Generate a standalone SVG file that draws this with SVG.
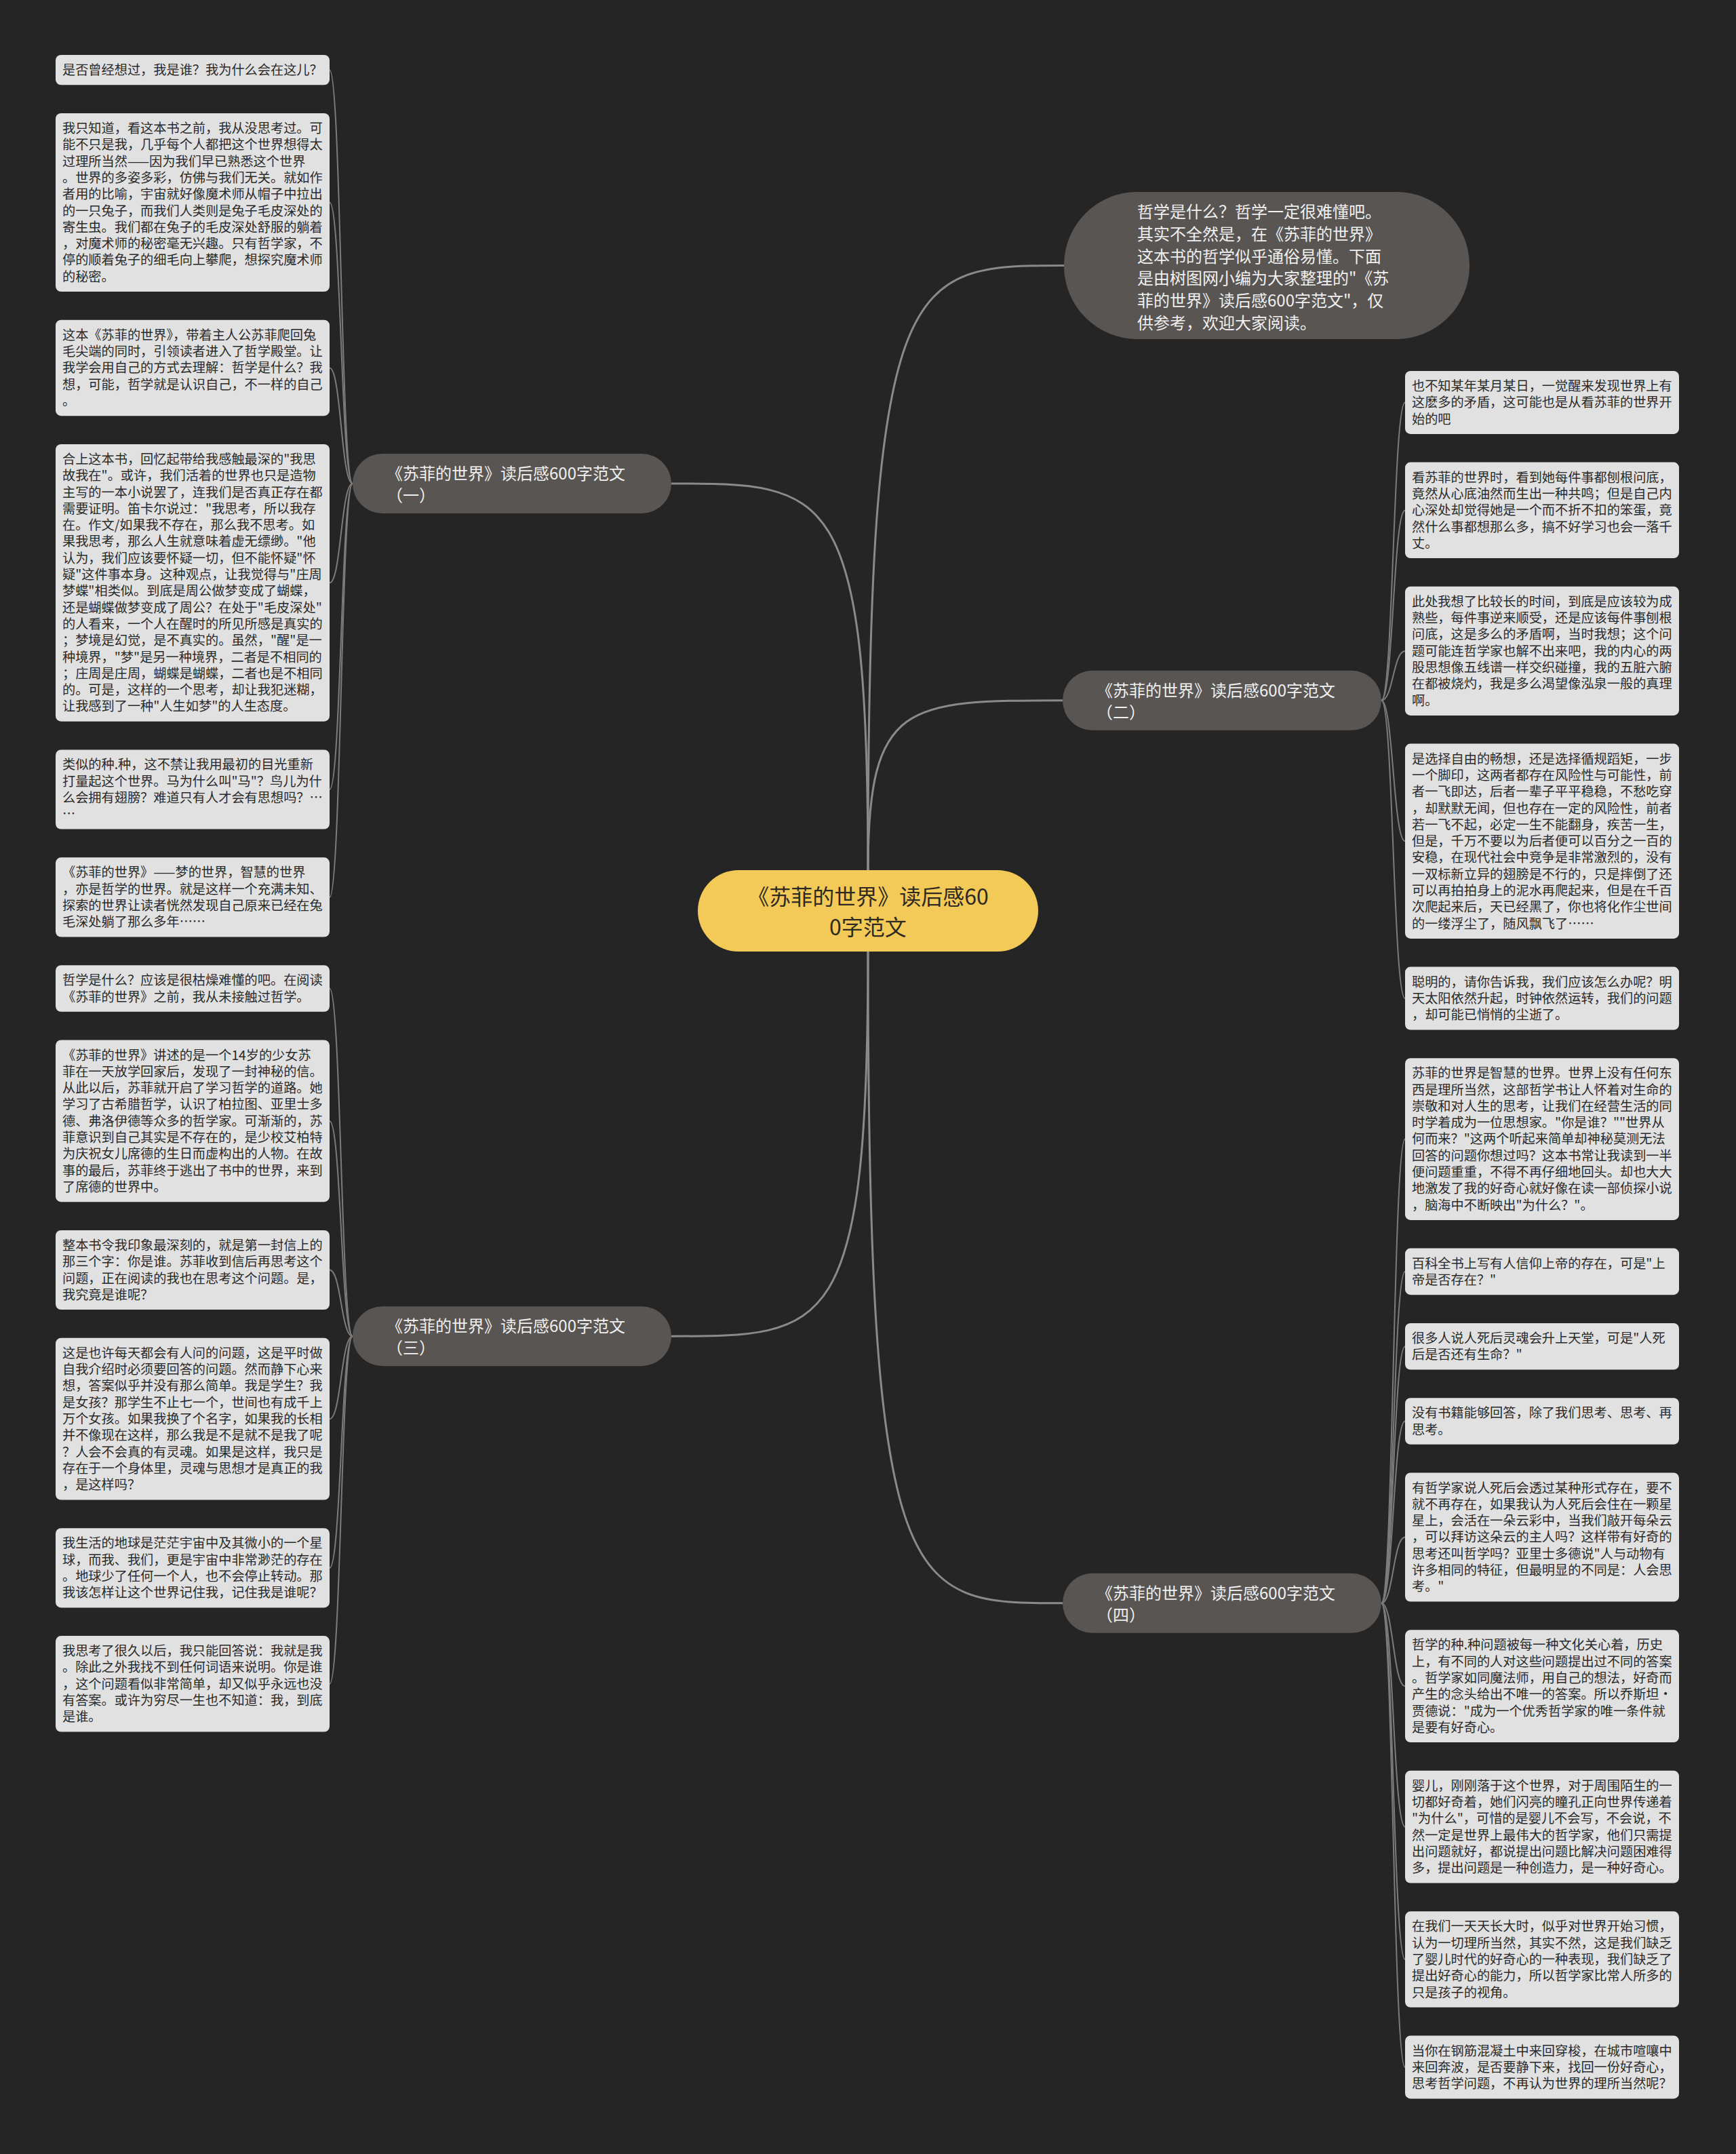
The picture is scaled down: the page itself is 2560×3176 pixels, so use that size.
<svg xmlns="http://www.w3.org/2000/svg" width="2560" height="3176" viewBox="0 0 2560 3176">
<style>
.bg{fill:#252525}
.leaf rect{fill:#e1e1e1}
.leaf text{font-family:"Noto Sans CJK SC","Noto Sans",sans-serif;font-size:19.2px;fill:#2a2a2a}
.br rect{fill:#595552}
.br text{font-family:"Noto Sans CJK SC","Noto Sans",sans-serif;font-size:24px;fill:#f0f0f0}
.main{fill:none;stroke:#8a8a8a;stroke-width:3}
.sub{fill:none;stroke:#7c7c7c;stroke-width:2}
</style>
<rect class="bg" x="0" y="0" width="2560" height="3176"/>

<g id="connectors">
<path class="main" d="M1280,1283 C1280,391.5 1338,391.5 1569,391.5"/>
<path class="main" d="M1280,1283 C1280,1032.8 1337,1032.8 1567,1032.8"/>
<path class="main" d="M1280,1283 C1280,713 1222,713 990,713"/>
<path class="main" d="M1280,1403 C1280,1970.2 1222,1970.2 990,1970.2"/>
<path class="main" d="M1280,1403 C1280,2363.8 1337,2363.8 1567,2363.8"/>
<path class="sub" d="M520,713 C503,713 503,103.2 486,103.2"/>
<path class="sub" d="M520,713 C503,713 503,298.5 486,298.5"/>
<path class="sub" d="M520,713 C503,713 503,542.5 486,542.5"/>
<path class="sub" d="M520,713 C503,713 503,859.3 486,859.3"/>
<path class="sub" d="M520,713 C503,713 503,1164 486,1164"/>
<path class="sub" d="M520,713 C503,713 503,1322.9 486,1322.9"/>
<path class="sub" d="M520,1970.2 C503,1970.2 503,1457.5 486,1457.5"/>
<path class="sub" d="M520,1970.2 C503,1970.2 503,1652.9 486,1652.9"/>
<path class="sub" d="M520,1970.2 C503,1970.2 503,1872.5 486,1872.5"/>
<path class="sub" d="M520,1970.2 C503,1970.2 503,2092.2 486,2092.2"/>
<path class="sub" d="M520,1970.2 C503,1970.2 503,2311.8 486,2311.8"/>
<path class="sub" d="M520,1970.2 C503,1970.2 503,2482.9 486,2482.9"/>
<path class="sub" d="M2037,1032.8 C2054.5,1032.8 2054.5,593.5 2072,593.5"/>
<path class="sub" d="M2037,1032.8 C2054.5,1032.8 2054.5,752.4 2072,752.4"/>
<path class="sub" d="M2037,1032.8 C2054.5,1032.8 2054.5,959.9 2072,959.9"/>
<path class="sub" d="M2037,1032.8 C2054.5,1032.8 2054.5,1240.3 2072,1240.3"/>
<path class="sub" d="M2037,1032.8 C2054.5,1032.8 2054.5,1472.1 2072,1472.1"/>
<path class="sub" d="M2037,2363.8 C2054.5,2363.8 2054.5,1679.6 2072,1679.6"/>
<path class="sub" d="M2037,2363.8 C2054.5,2363.8 2054.5,1874.9 2072,1874.9"/>
<path class="sub" d="M2037,2363.8 C2054.5,2363.8 2054.5,1985.2 2072,1985.2"/>
<path class="sub" d="M2037,2363.8 C2054.5,2363.8 2054.5,2095.5 2072,2095.5"/>
<path class="sub" d="M2037,2363.8 C2054.5,2363.8 2054.5,2266.6 2072,2266.6"/>
<path class="sub" d="M2037,2363.8 C2054.5,2363.8 2054.5,2486.2 2072,2486.2"/>
<path class="sub" d="M2037,2363.8 C2054.5,2363.8 2054.5,2693.7 2072,2693.7"/>
<path class="sub" d="M2037,2363.8 C2054.5,2363.8 2054.5,2889.1 2072,2889.1"/>
<path class="sub" d="M2037,2363.8 C2054.5,2363.8 2054.5,3048 2072,3048"/>
</g>

<g id="center">
<rect x="1029" y="1283" width="502" height="120" rx="60" fill="#f3c957"/>
<text x="1280" y="1334" text-anchor="middle" font-family="Noto Sans CJK SC, Noto Sans, sans-serif" font-size="32" fill="#2e2a22"><tspan x="1280" y="1334">《苏菲的世界》读后感60</tspan><tspan x="1280" y="1379">0字范文</tspan></text>
</g>

<g id="intro" class="br">
<rect x="1569" y="283" width="598" height="217" rx="108"/>
<text x="1677" y="321" font-size="24"><tspan x="1677" y="321">哲学是什么？哲学一定很难懂吧。</tspan><tspan x="1677" y="353.8">其实不全然是，在《苏菲的世界》</tspan><tspan x="1677" y="386.6">这本书的哲学似乎通俗易懂。下面</tspan><tspan x="1677" y="419.4">是由树图网小编为大家整理的"《苏</tspan><tspan x="1677" y="452.2">菲的世界》读后感600字范文"，仅</tspan><tspan x="1677" y="485">供参考，欢迎大家阅读。</tspan></text>
</g>

<g id="branch1" class="br">
<rect x="520" y="669" width="470" height="88" rx="44"/>
<text x="570" y="707"><tspan x="570" y="707">《苏菲的世界》读后感600字范文</tspan><tspan x="570" y="739">（一）</tspan></text>
</g>
<g id="branch2" class="br">
<rect x="1567" y="988.8" width="470" height="88" rx="44"/>
<text x="1617" y="1026.8"><tspan x="1617" y="1026.8">《苏菲的世界》读后感600字范文</tspan><tspan x="1617" y="1058.8">（二）</tspan></text>
</g>
<g id="branch3" class="br">
<rect x="520" y="1926.2" width="470" height="88" rx="44"/>
<text x="570" y="1964.2"><tspan x="570" y="1964.2">《苏菲的世界》读后感600字范文</tspan><tspan x="570" y="1996.2">（三）</tspan></text>
</g>
<g id="branch4" class="br">
<rect x="1567" y="2319.8" width="470" height="88" rx="44"/>
<text x="1617" y="2357.8"><tspan x="1617" y="2357.8">《苏菲的世界》读后感600字范文</tspan><tspan x="1617" y="2389.8">（四）</tspan></text>
</g>

<g id="L1" class="leaf"><rect x="82" y="81" width="404" height="44.3" rx="8"/>
<text x="92" y="110"><tspan x="92" dy="0">是否曾经想过，我是谁？我为什么会在这儿？</tspan></text></g>

<g id="L2" class="leaf"><rect x="82" y="167" width="404" height="263" rx="8"/>
<text x="92" y="196"><tspan x="92" dy="0">我只知道，看这本书之前，我从没思考过。可</tspan><tspan x="92" dy="24.3">能不只是我，几乎每个人都把这个世界想得太</tspan><tspan x="92" dy="24.3">过理所当然——因为我们早已熟悉这个世界</tspan><tspan x="92" dy="24.3">。世界的多姿多彩，仿佛与我们无关。就如作</tspan><tspan x="92" dy="24.3">者用的比喻，宇宙就好像魔术师从帽子中拉出</tspan><tspan x="92" dy="24.3">的一只兔子，而我们人类则是兔子毛皮深处的</tspan><tspan x="92" dy="24.3">寄生虫。我们都在兔子的毛皮深处舒服的躺着</tspan><tspan x="92" dy="24.3">，对魔术师的秘密毫无兴趣。只有哲学家，不</tspan><tspan x="92" dy="24.3">停的顺着兔子的细毛向上攀爬，想探究魔术师</tspan><tspan x="92" dy="24.3">的秘密。</tspan></text></g>

<g id="L3" class="leaf"><rect x="82" y="471.7" width="404" height="141.5" rx="8"/>
<text x="92" y="500.7"><tspan x="92" dy="0">这本《苏菲的世界》，带着主人公苏菲爬回兔</tspan><tspan x="92" dy="24.3">毛尖端的同时，引领读者进入了哲学殿堂。让</tspan><tspan x="92" dy="24.3">我学会用自己的方式去理解：哲学是什么？我</tspan><tspan x="92" dy="24.3">想，可能，哲学就是认识自己，不一样的自己</tspan><tspan x="92" dy="24.3">。</tspan></text></g>

<g id="L4" class="leaf"><rect x="82" y="654.9" width="404" height="408.8" rx="8"/>
<text x="92" y="683.9"><tspan x="92" dy="0">合上这本书，回忆起带给我感触最深的"我思</tspan><tspan x="92" dy="24.3">故我在"。或许，我们活着的世界也只是造物</tspan><tspan x="92" dy="24.3">主写的一本小说罢了，连我们是否真正存在都</tspan><tspan x="92" dy="24.3">需要证明。笛卡尔说过："我思考，所以我存</tspan><tspan x="92" dy="24.3">在。作文/如果我不存在，那么我不思考。如</tspan><tspan x="92" dy="24.3">果我思考，那么人生就意味着虚无缥缈。"他</tspan><tspan x="92" dy="24.3">认为，我们应该要怀疑一切，但不能怀疑"怀</tspan><tspan x="92" dy="24.3">疑"这件事本身。这种观点，让我觉得与"庄周</tspan><tspan x="92" dy="24.3">梦蝶"相类似。到底是周公做梦变成了蝴蝶，</tspan><tspan x="92" dy="24.3">还是蝴蝶做梦变成了周公？在处于"毛皮深处"</tspan><tspan x="92" dy="24.3">的人看来，一个人在醒时的所见所感是真实的</tspan><tspan x="92" dy="24.3">；梦境是幻觉，是不真实的。虽然，"醒"是一</tspan><tspan x="92" dy="24.3">种境界，"梦"是另一种境界，二者是不相同的</tspan><tspan x="92" dy="24.3">；庄周是庄周，蝴蝶是蝴蝶，二者也是不相同</tspan><tspan x="92" dy="24.3">的。可是，这样的一个思考，却让我犯迷糊，</tspan><tspan x="92" dy="24.3">让我感到了一种"人生如梦"的人生态度。</tspan></text></g>

<g id="L5" class="leaf"><rect x="82" y="1105.4" width="404" height="117.2" rx="8"/>
<text x="92" y="1134.4"><tspan x="92" dy="0">类似的种.种，这不禁让我用最初的目光重新</tspan><tspan x="92" dy="24.3">打量起这个世界。马为什么叫"马"？鸟儿为什</tspan><tspan x="92" dy="24.3">么会拥有翅膀？难道只有人才会有思想吗？…</tspan><tspan x="92" dy="24.3">…</tspan></text></g>

<g id="L6" class="leaf"><rect x="82" y="1264.3" width="404" height="117.2" rx="8"/>
<text x="92" y="1293.3"><tspan x="92" dy="0">《苏菲的世界》——梦的世界，智慧的世界</tspan><tspan x="92" dy="24.3">，亦是哲学的世界。就是这样一个充满未知、</tspan><tspan x="92" dy="24.3">探索的世界让读者恍然发现自己原来已经在兔</tspan><tspan x="92" dy="24.3">毛深处躺了那么多年……</tspan></text></g>

<g id="L7" class="leaf"><rect x="82" y="1423.2" width="404" height="68.6" rx="8"/>
<text x="92" y="1452.2"><tspan x="92" dy="0">哲学是什么？应该是很枯燥难懂的吧。在阅读</tspan><tspan x="92" dy="24.3">《苏菲的世界》之前，我从未接触过哲学。</tspan></text></g>

<g id="L8" class="leaf"><rect x="82" y="1533.5" width="404" height="238.7" rx="8"/>
<text x="92" y="1562.5"><tspan x="92" dy="0">《苏菲的世界》讲述的是一个14岁的少女苏</tspan><tspan x="92" dy="24.3">菲在一天放学回家后，发现了一封神秘的信。</tspan><tspan x="92" dy="24.3">从此以后，苏菲就开启了学习哲学的道路。她</tspan><tspan x="92" dy="24.3">学习了古希腊哲学，认识了柏拉图、亚里士多</tspan><tspan x="92" dy="24.3">德、弗洛伊德等众多的哲学家。可渐渐的，苏</tspan><tspan x="92" dy="24.3">菲意识到自己其实是不存在的，是少校艾柏特</tspan><tspan x="92" dy="24.3">为庆祝女儿席德的生日而虚构出的人物。在故</tspan><tspan x="92" dy="24.3">事的最后，苏菲终于逃出了书中的世界，来到</tspan><tspan x="92" dy="24.3">了席德的世界中。</tspan></text></g>

<g id="L9" class="leaf"><rect x="82" y="1813.9" width="404" height="117.2" rx="8"/>
<text x="92" y="1842.9"><tspan x="92" dy="0">整本书令我印象最深刻的，就是第一封信上的</tspan><tspan x="92" dy="24.3">那三个字：你是谁。苏菲收到信后再思考这个</tspan><tspan x="92" dy="24.3">问题，正在阅读的我也在思考这个问题。是，</tspan><tspan x="92" dy="24.3">我究竟是谁呢？</tspan></text></g>

<g id="L10" class="leaf"><rect x="82" y="1972.8" width="404" height="238.7" rx="8"/>
<text x="92" y="2001.8"><tspan x="92" dy="0">这是也许每天都会有人问的问题，这是平时做</tspan><tspan x="92" dy="24.3">自我介绍时必须要回答的问题。然而静下心来</tspan><tspan x="92" dy="24.3">想，答案似乎并没有那么简单。我是学生？我</tspan><tspan x="92" dy="24.3">是女孩？那学生不止七一个，世间也有成千上</tspan><tspan x="92" dy="24.3">万个女孩。如果我换了个名字，如果我的长相</tspan><tspan x="92" dy="24.3">并不像现在这样，那么我是不是就不是我了呢</tspan><tspan x="92" dy="24.3">？人会不会真的有灵魂。如果是这样，我只是</tspan><tspan x="92" dy="24.3">存在于一个身体里，灵魂与思想才是真正的我</tspan><tspan x="92" dy="24.3">，是这样吗？</tspan></text></g>

<g id="L11" class="leaf"><rect x="82" y="2253.2" width="404" height="117.2" rx="8"/>
<text x="92" y="2282.2"><tspan x="92" dy="0">我生活的地球是茫茫宇宙中及其微小的一个星</tspan><tspan x="92" dy="24.3">球，而我、我们，更是宇宙中非常渺茫的存在</tspan><tspan x="92" dy="24.3">。地球少了任何一个人，也不会停止转动。那</tspan><tspan x="92" dy="24.3">我该怎样让这个世界记住我，记住我是谁呢？</tspan></text></g>

<g id="L12" class="leaf"><rect x="82" y="2412.1" width="404" height="141.5" rx="8"/>
<text x="92" y="2441.1"><tspan x="92" dy="0">我思考了很久以后，我只能回答说：我就是我</tspan><tspan x="92" dy="24.3">。除此之外我找不到任何词语来说明。你是谁</tspan><tspan x="92" dy="24.3">，这个问题看似非常简单，却又似乎永远也没</tspan><tspan x="92" dy="24.3">有答案。或许为穷尽一生也不知道：我，到底</tspan><tspan x="92" dy="24.3">是谁。</tspan></text></g>

<g id="R1" class="leaf"><rect x="2072" y="547" width="404" height="92.9" rx="8"/>
<text x="2082" y="576"><tspan x="2082" dy="0">也不知某年某月某日，一觉醒来发现世界上有</tspan><tspan x="2082" dy="24.3">这麽多的矛盾，这可能也是从看苏菲的世界开</tspan><tspan x="2082" dy="24.3">始的吧</tspan></text></g>

<g id="R2" class="leaf"><rect x="2072" y="681.6" width="404" height="141.5" rx="8"/>
<text x="2082" y="710.6"><tspan x="2082" dy="0">看苏菲的世界时，看到她每件事都刨根问底，</tspan><tspan x="2082" dy="24.3">竟然从心底油然而生出一种共鸣；但是自己内</tspan><tspan x="2082" dy="24.3">心深处却觉得她是一个而不折不扣的笨蛋，竟</tspan><tspan x="2082" dy="24.3">然什么事都想那么多，搞不好学习也会一落千</tspan><tspan x="2082" dy="24.3">丈。</tspan></text></g>

<g id="R3" class="leaf"><rect x="2072" y="864.8" width="404" height="190.1" rx="8"/>
<text x="2082" y="893.8"><tspan x="2082" dy="0">此处我想了比较长的时间，到底是应该较为成</tspan><tspan x="2082" dy="24.3">熟些，每件事逆来顺受，还是应该每件事刨根</tspan><tspan x="2082" dy="24.3">问底，这是多么的矛盾啊，当时我想；这个问</tspan><tspan x="2082" dy="24.3">题可能连哲学家也解不出来吧，我的内心的两</tspan><tspan x="2082" dy="24.3">股思想像五线谱一样交织碰撞，我的五脏六腑</tspan><tspan x="2082" dy="24.3">在都被烧灼，我是多么渴望像泓泉一般的真理</tspan><tspan x="2082" dy="24.3">啊。</tspan></text></g>

<g id="R4" class="leaf"><rect x="2072" y="1096.6" width="404" height="287.3" rx="8"/>
<text x="2082" y="1125.6"><tspan x="2082" dy="0">是选择自由的畅想，还是选择循规蹈矩，一步</tspan><tspan x="2082" dy="24.3">一个脚印，这两者都存在风险性与可能性，前</tspan><tspan x="2082" dy="24.3">者一飞即达，后者一辈子平平稳稳，不愁吃穿</tspan><tspan x="2082" dy="24.3">，却默默无闻，但也存在一定的风险性，前者</tspan><tspan x="2082" dy="24.3">若一飞不起，必定一生不能翻身，疾苦一生，</tspan><tspan x="2082" dy="24.3">但是，千万不要以为后者便可以百分之一百的</tspan><tspan x="2082" dy="24.3">安稳，在现代社会中竞争是非常激烈的，没有</tspan><tspan x="2082" dy="24.3">一双标新立异的翅膀是不行的，只是摔倒了还</tspan><tspan x="2082" dy="24.3">可以再拍拍身上的泥水再爬起来，但是在千百</tspan><tspan x="2082" dy="24.3">次爬起来后，天已经黑了，你也将化作尘世间</tspan><tspan x="2082" dy="24.3">的一缕浮尘了，随风飘飞了……</tspan></text></g>

<g id="R5" class="leaf"><rect x="2072" y="1425.6" width="404" height="92.9" rx="8"/>
<text x="2082" y="1454.6"><tspan x="2082" dy="0">聪明的，请你告诉我，我们应该怎么办呢？明</tspan><tspan x="2082" dy="24.3">天太阳依然升起，时钟依然运转，我们的问题</tspan><tspan x="2082" dy="24.3">，却可能已悄悄的尘逝了。</tspan></text></g>

<g id="R6" class="leaf"><rect x="2072" y="1560.2" width="404" height="238.7" rx="8"/>
<text x="2082" y="1589.2"><tspan x="2082" dy="0">苏菲的世界是智慧的世界。世界上没有任何东</tspan><tspan x="2082" dy="24.3">西是理所当然，这部哲学书让人怀着对生命的</tspan><tspan x="2082" dy="24.3">崇敬和对人生的思考，让我们在经营生活的同</tspan><tspan x="2082" dy="24.3">时学着成为一位思想家。"你是谁？""世界从</tspan><tspan x="2082" dy="24.3">何而来？"这两个听起来简单却神秘莫测无法</tspan><tspan x="2082" dy="24.3">回答的问题你想过吗？这本书常让我读到一半</tspan><tspan x="2082" dy="24.3">便问题重重，不得不再仔细地回头。却也大大</tspan><tspan x="2082" dy="24.3">地激发了我的好奇心就好像在读一部侦探小说</tspan><tspan x="2082" dy="24.3">，脑海中不断映出"为什么？"。</tspan></text></g>

<g id="R7" class="leaf"><rect x="2072" y="1840.6" width="404" height="68.6" rx="8"/>
<text x="2082" y="1869.6"><tspan x="2082" dy="0">百科全书上写有人信仰上帝的存在，可是"上</tspan><tspan x="2082" dy="24.3">帝是否存在？"</tspan></text></g>

<g id="R8" class="leaf"><rect x="2072" y="1950.9" width="404" height="68.6" rx="8"/>
<text x="2082" y="1979.9"><tspan x="2082" dy="0">很多人说人死后灵魂会升上天堂，可是"人死</tspan><tspan x="2082" dy="24.3">后是否还有生命？"</tspan></text></g>

<g id="R9" class="leaf"><rect x="2072" y="2061.2" width="404" height="68.6" rx="8"/>
<text x="2082" y="2090.2"><tspan x="2082" dy="0">没有书籍能够回答，除了我们思考、思考、再</tspan><tspan x="2082" dy="24.3">思考。</tspan></text></g>

<g id="R10" class="leaf"><rect x="2072" y="2171.5" width="404" height="190.1" rx="8"/>
<text x="2082" y="2200.5"><tspan x="2082" dy="0">有哲学家说人死后会透过某种形式存在，要不</tspan><tspan x="2082" dy="24.3">就不再存在，如果我认为人死后会住在一颗星</tspan><tspan x="2082" dy="24.3">星上，会活在一朵云彩中，当我们敲开每朵云</tspan><tspan x="2082" dy="24.3">，可以拜访这朵云的主人吗？这样带有好奇的</tspan><tspan x="2082" dy="24.3">思考还叫哲学吗？亚里士多德说"人与动物有</tspan><tspan x="2082" dy="24.3">许多相同的特征，但最明显的不同是：人会思</tspan><tspan x="2082" dy="24.3">考。"</tspan></text></g>

<g id="R11" class="leaf"><rect x="2072" y="2403.3" width="404" height="165.8" rx="8"/>
<text x="2082" y="2432.3"><tspan x="2082" dy="0">哲学的种.种问题被每一种文化关心着，历史</tspan><tspan x="2082" dy="24.3">上，有不同的人对这些问题提出过不同的答案</tspan><tspan x="2082" dy="24.3">。哲学家如同魔法师，用自己的想法，好奇而</tspan><tspan x="2082" dy="24.3">产生的念头给出不唯一的答案。所以乔斯坦·</tspan><tspan x="2082" dy="24.3">贾德说："成为一个优秀哲学家的唯一条件就</tspan><tspan x="2082" dy="24.3">是要有好奇心。</tspan></text></g>

<g id="R12" class="leaf"><rect x="2072" y="2610.8" width="404" height="165.8" rx="8"/>
<text x="2082" y="2639.8"><tspan x="2082" dy="0">婴儿，刚刚落于这个世界，对于周围陌生的一</tspan><tspan x="2082" dy="24.3">切都好奇着，她们闪亮的瞳孔正向世界传递着</tspan><tspan x="2082" dy="24.3">"为什么"，可惜的是婴儿不会写，不会说，不</tspan><tspan x="2082" dy="24.3">然一定是世界上最伟大的哲学家，他们只需提</tspan><tspan x="2082" dy="24.3">出问题就好，都说提出问题比解决问题困难得</tspan><tspan x="2082" dy="24.3">多，提出问题是一种创造力，是一种好奇心。</tspan></text></g>

<g id="R13" class="leaf"><rect x="2072" y="2818.3" width="404" height="141.5" rx="8"/>
<text x="2082" y="2847.3"><tspan x="2082" dy="0">在我们一天天长大时，似乎对世界开始习惯，</tspan><tspan x="2082" dy="24.3">认为一切理所当然，其实不然，这是我们缺乏</tspan><tspan x="2082" dy="24.3">了婴儿时代的好奇心的一种表现，我们缺乏了</tspan><tspan x="2082" dy="24.3">提出好奇心的能力，所以哲学家比常人所多的</tspan><tspan x="2082" dy="24.3">只是孩子的视角。</tspan></text></g>

<g id="R14" class="leaf"><rect x="2072" y="3001.5" width="404" height="92.9" rx="8"/>
<text x="2082" y="3030.5"><tspan x="2082" dy="0">当你在钢筋混凝土中来回穿梭，在城市喧嚷中</tspan><tspan x="2082" dy="24.3">来回奔波，是否要静下来，找回一份好奇心，</tspan><tspan x="2082" dy="24.3">思考哲学问题，不再认为世界的理所当然呢？</tspan></text></g>
</svg>
